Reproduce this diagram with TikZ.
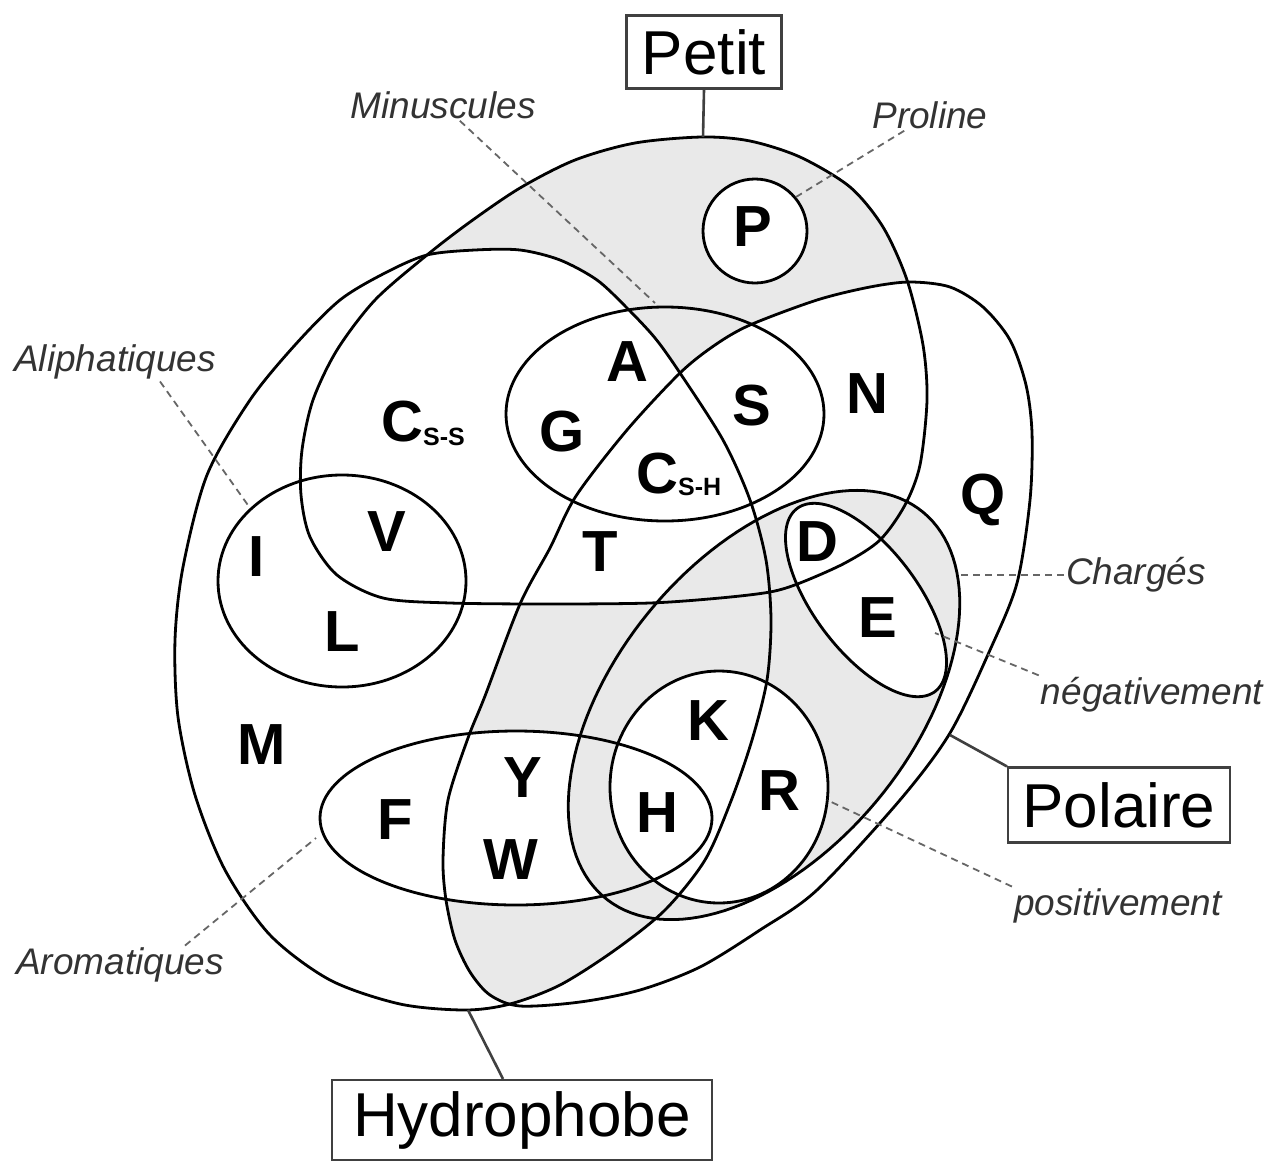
\documentclass[tikz,border=0pt]{standalone}
\usepackage{fontspec}
\setmainfont{Liberation Sans}
\usetikzlibrary{calc}
\definecolor{shadecol}{RGB}{233,233,233}
\begin{document}
\def\PetitPath{plot[smooth cycle] coordinates {(702,137) (750,141) (800,157) (850,187) (883,227) (907,280) (923,345) (927,400) (920,465) (905,505) (880,540) (845,563) (800,583) (770,592) (720,598) (650,603) (550,604) (450,603) (383,598) (337,575) (310,537) (301,495) (302,450) (313,400) (337,350) (375,300) (427,255) (470,222) (520,188) (575,160) (635,143)}}
\def\HydroPath{plot[smooth cycle] coordinates {(427,255) (475,250) (520,250) (560,260) (597,280) (627,308) (655,338) (680,373) (723,440) (750,500) (766,560) (771,620) (767,680) (752,740) (731,801) (705,860) (665,910) (615,950) (560,985) (510,1004) (465,1010) (400,1004) (330,980) (270,935) (225,870) (195,795) (178,717) (175,640) (183,567) (207,475) (250,400) (295,345) (340,300) (385,273)}}
\def\PolarPath{plot[smooth cycle] coordinates {(680,373) (715,345) (750,325) (817,300) (870,287) (910,282) (950,287) (983,307) (1010,340) (1026,385) (1032,433) (1030,500) (1017,583) (990,650) (950,733) (900,800) (817,890) (760,930) (700,967) (640,990) (580,1002) (520,1006) (490,995) (470,972) (455,940) (446,900) (443,860) (448,800) (468,738) (485,696) (520,604) (550,548) (576,496) (627,430)}}
\def\ChargedPath{plot[domain=0:360, samples=140, variable=\t] ({764 + 159.0*cos(\t) - 114.2*sin(\t)}, {705 - 192.9*cos(\t) - 94.1*sin(\t)}) -- cycle}
\def\NegPath{plot[domain=0:360, samples=120, variable=\t] ({866 + 69.0*cos(\t) + 41.5*sin(\t)}, {600 + 91.5*cos(\t) - 31.3*sin(\t)}) -- cycle}
\def\TinyPath{(665,414) ellipse [x radius=159pt, y radius=107pt]}
\def\AliphPath{(342,581) ellipse [x radius=124pt, y radius=106pt]}
\def\AromPath{(516,818) ellipse [x radius=196pt, y radius=87pt]}
\def\PosPath{(719,787) ellipse [x radius=109pt, y radius=116pt]}
\def\ProPath{(755,231) circle [radius=52pt]}
\begin{tikzpicture}[x=1pt,y=-1pt,
  outline/.style={line width=2.8pt, black},
  lt/.style={font=\fontsize{58}{58}\selectfont\bfseries, inner sep=0pt},
  boxlabel/.style={draw=black!75, line width=2.2pt, font=\fontsize{62}{62}\selectfont, inner sep=0pt},
  tag/.style={font=\fontsize{37}{37}\selectfont\itshape, inner sep=2pt, text=black!80},
  dleader/.style={line width=1.8pt, dash pattern=on 7pt off 5pt, black!60},
  sleader/.style={line width=2.6pt, black!75}]
\useasboundingbox (0,0) rectangle (1281,1164);
\fill[white] (0,0) rectangle (1281,1164);
% shaded empty regions
\begin{scope}
  \clip \PetitPath;
  \fill[shadecol] (0,0) rectangle (1281,1164);
\end{scope}
\fill[white] \HydroPath;
\fill[white] \PolarPath;
\fill[white] \ProPath;
\begin{scope}
  \clip \HydroPath;
  \clip \PolarPath;
  \fill[shadecol] (0,0) rectangle (1281,1164);
  \fill[white] \PetitPath;
  \fill[white] \AromPath;
  \fill[white] \ChargedPath;
\end{scope}
\begin{scope}
  \clip \ChargedPath;
  \fill[shadecol] (0,0) rectangle (1281,1164);
  \fill[white] \PosPath;
  \fill[white] \NegPath;
\end{scope}
% outlines
\draw[outline] \PetitPath;
\draw[outline] \HydroPath;
\draw[outline] \PolarPath;
\draw[outline] \ChargedPath;
\draw[outline] \NegPath;
\draw[outline] \TinyPath;
\draw[outline] \AliphPath;
\draw[outline] \AromPath;
\draw[outline] \PosPath;
\draw[outline] \ProPath;
% letters
\node[lt] (aaP) at (753,227) {P};
\node[lt] (aaA) at (627,362) {A};
\node[lt] (aaG) at (562,432) {G};
\node[lt] (aaS) at (752,406) {S};
\node[lt] (aaN) at (867,394) {N};
\node[lt, anchor=base west] (aaCss) at (381,441) {C\raisebox{-4pt}{\fontsize{25}{25}\selectfont S-S}};
\node[lt, anchor=base west] (aaCsh) at (636,493) {C\raisebox{-2pt}{\fontsize{25}{25}\selectfont S-H}};
\node[lt] (aaI) at (257,557) {I};
\node[lt] (aaV) at (387,532) {V};
\node[lt] (aaL) at (342,632) {L};
\node[lt] (aaT) at (600,552) {T};
\node[lt] (aaD) at (817,542) {D};
\node[lt] (aaE) at (878,618) {E};
\node[lt] (aaQ) at (983,500) {Q};
\node[lt] (aaM) at (262,745) {M};
\node[lt] (aaK) at (708,721) {K};
\node[lt] (aaR) at (779,791) {R};
\node[lt] (aaH) at (657,813) {H};
\node[lt] (aaF) at (395,820) {F};
\node[lt] (aaY) at (523,778) {Y};
\node[lt] (aaW) at (511,860) {W};
% box labels
\node[boxlabel, minimum width=155pt, minimum height=73pt] (petit) at (704,52) {Petit};
\node[boxlabel, minimum width=222pt, minimum height=75pt] (polaire) at (1119,805) {Polaire};
\node[boxlabel, minimum width=380pt, minimum height=80pt] (hydro) at (522,1120) {Hydrophobe};
\coordinate (petitTop) at (703,137);
\coordinate (hydroBot) at (468,1010);
\coordinate (polRight) at (950,735);
\draw[sleader] (petit.south) -- (petitTop);
\draw[sleader] ([xshift=-19pt]hydro.north) -- (hydroBot);
\draw[sleader] (polaire.north west) -- (polRight);
% italic tags
\node[tag] (minu) at (443,105) {Minuscules};
\node[tag] (pro) at (930,115) {Proline};
\node[tag] (aliph) at (115,362) {Aliphatiques};
\node[tag] (charg) at (1136,575) {Chargés};
\node[tag] (neg) at (1152,695) {négativement};
\node[tag] (pos) at (1118,906) {positivement};
\node[tag] (arom) at (120,965) {Aromatiques};
\coordinate (minuEnd) at (655,303);
\coordinate (proEnd) at (796,197);
\coordinate (aliphEnd) at (250,508);
\coordinate (aromEnd) at (316,838);
\coordinate (chargEnd) at (958,575);
\coordinate (negEnd) at (935,633);
\coordinate (posEnd) at (827,800);
\draw[dleader] (minu) -- (minuEnd);
\draw[dleader] (pro) -- (proEnd);
\draw[dleader] ([xshift=45pt]aliph.south) -- (aliphEnd);
\draw[dleader] ([xshift=65pt]arom.north) -- (aromEnd);
\draw[dleader] (charg.west) -- (chargEnd);
\draw[dleader] (neg.north west) -- (negEnd);
\draw[dleader] (pos.north west) -- (posEnd);
\end{tikzpicture}
\end{document}
